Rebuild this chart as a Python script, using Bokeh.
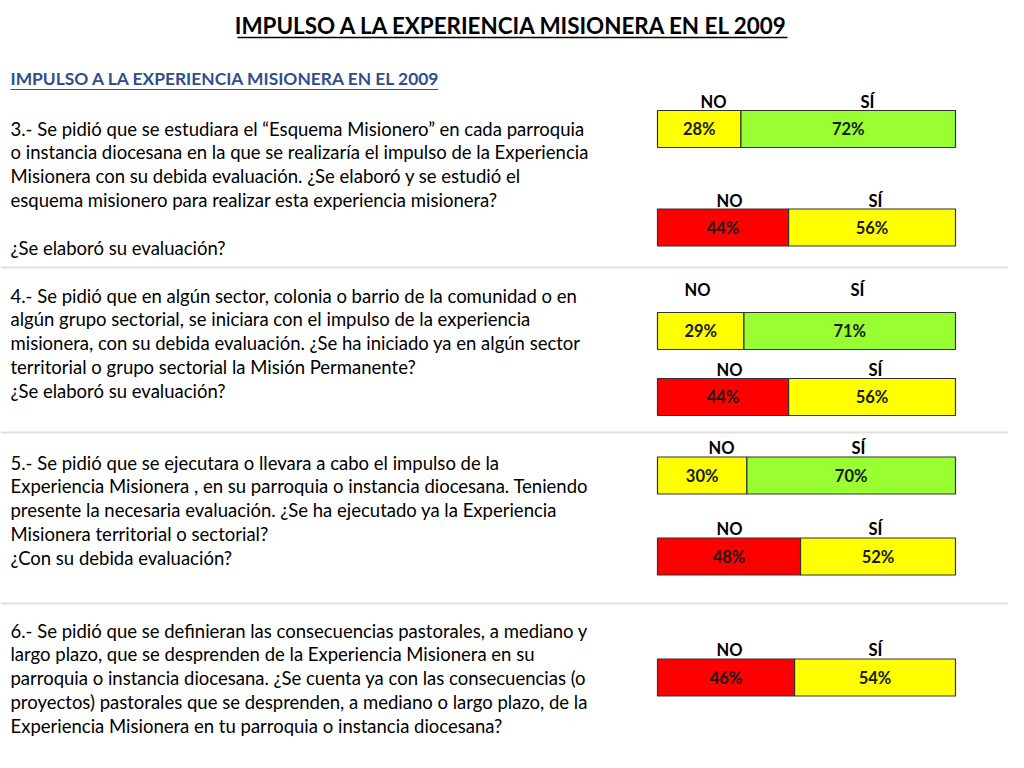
from bokeh.plotting import figure
from bokeh.models import Range1d, ColumnDataSource
from bokeh.core.properties import value
from bokeh.embed import file_html
from bokeh.resources import INLINE

# ---------------- data ----------------
title = "IMPULSO A LA EXPERIENCIA MISIONERA EN EL 2009"
subtitle = "IMPULSO A LA EXPERIENCIA MISIONERA EN EL 2009"

q3 = ["3.- Se pidió que se estudiara el “Esquema Misionero” en cada parroquia",
      "o instancia diocesana en la que se realizaría el impulso de la Experiencia",
      "Misionera con su debida evaluación.  ¿Se elaboró y se estudió el",
      "esquema misionero para realizar esta experiencia misionera?",
      "",
      "¿Se elaboró su evaluación?"]
q4 = ["4.- Se pidió que en algún sector, colonia o barrio de la comunidad o en",
      "algún grupo sectorial, se iniciara  con el impulso de la experiencia",
      "misionera, con su debida evaluación. ¿Se ha iniciado ya en algún sector",
      "territorial o grupo sectorial la Misión Permanente?",
      "¿Se elaboró su evaluación?"]
q5 = ["5.- Se pidió que se ejecutara o llevara a cabo el impulso de la",
      "Experiencia Misionera , en su parroquia o instancia diocesana. Teniendo",
      "presente la necesaria evaluación.  ¿Se ha ejecutado ya la Experiencia",
      "Misionera  territorial o sectorial?",
      "¿Con su debida evaluación?"]
q6 = ["6.- Se pidió que se definieran las consecuencias pastorales, a mediano y",
      "largo plazo, que se desprenden de la Experiencia Misionera en su",
      "parroquia o instancia diocesana. ¿Se cuenta ya con las consecuencias (o",
      "proyectos) pastorales que se desprenden, a mediano o largo plazo, de la",
      "Experiencia Misionera  en tu parroquia o instancia diocesana?"]
questions = [q3, q4, q5, q6]

no_label = "NO"
si_label = "SÍ"
no_pct = [28, 44, 29, 44, 30, 48, 46]
si_pct = [72, 56, 71, 56, 70, 52, 54]
no_colors = ["#FFFF00", "#FF0000", "#FFFF00", "#FF0000", "#FFFF00", "#FF0000", "#FF0000"]
si_colors = ["#99FF33", "#FFFF00", "#99FF33", "#FFFF00", "#99FF33", "#FFFF00", "#FFFF00"]

# ---------------- layout (pixel positions) ----------------
W, H = 1008, 752
q_start_y = [128, 295, 462, 630]
line_h = 23.8
row_y = [128.5, 227, 330.5, 396.5, 475, 556, 677]
bar_h = 37
no_lab_x = [713, 729, 697, 729, 721, 729, 729]
si_lab_x = [867, 875, 857, 875, 858, 875, 875]
lab_dy = [-27, -27, -41, -27, -28, -28, -28]
sep_y = [267, 432, 603]

FONT = value("Lato")

p = figure(width=W, height=H, output_backend="svg", toolbar_location=None,
           x_range=Range1d(0, W), y_range=Range1d(H, 0),
           min_border=0, outline_line_color=None,
           x_axis_location=None, y_axis_location=None)
p.xgrid.visible = False
p.ygrid.visible = False
p.background_fill_color = "white"
p.border_fill_color = "white"

# percent range: 0 -> x=657, 100 -> x=955
bx0, bx1 = 657, 955
sc = (bx1 - bx0) / 100.0
p.extra_x_ranges = {"pct": Range1d(-bx0 / sc, 100 + (W - bx1) / sc)}

# separators
p.segment(x0=[0] * 3, x1=[1024] * 3, y0=sep_y, y1=sep_y, line_color="#e2e2da", line_width=2)

# title
p.text(x=[512], y=[25], text=[title], text_font=FONT, text_font_style="bold",
       text_font_size="22.4px", text_align="center", text_baseline="middle", text_color="black")
p.segment(x0=[237], x1=[787], y0=[37], y1=[37], line_color="black", line_width=1.5)

# subtitle
p.text(x=[10], y=[78], text=[subtitle], text_font=FONT, text_font_style="bold",
       text_font_size="17.4px", text_align="left", text_baseline="middle", text_color="#2F4F8A")
p.segment(x0=[10], x1=[438], y0=[89], y1=[89], line_color="#2F4F8A", line_width=1.2)

# question text
xs, ys, ts = [], [], []
for lines, y0 in zip(questions, q_start_y):
    for i, t in enumerate(lines):
        if t:
            xs.append(10)
            ys.append(y0 + i * line_h)
            ts.append(t)
p.text(x="x", y="y", text="t", source=ColumnDataSource(dict(x=xs, y=ys, t=ts)),
       text_font=FONT, text_font_size="18.5px", text_align="left", text_baseline="middle",
       text_color="black")

# bars
src = ColumnDataSource(dict(
    y=row_y, no=no_pct, si=si_pct, zero=[0] * len(no_pct),
    tot=[a + b for a, b in zip(no_pct, si_pct)],
    noc=no_colors, sic=si_colors,
    no_mid=[a / 2 for a in no_pct],
    si_mid=[a + b / 2 for a, b in zip(no_pct, si_pct)],
    no_txt=[f"{a}%" for a in no_pct], si_txt=[f"{b}%" for b in si_pct],
))
p.hbar(y="y", left="zero", right="no", height=bar_h, source=src, x_range_name="pct",
       fill_color="noc", line_color="#333333", line_width=1.2)
p.hbar(y="y", left="no", right="tot", height=bar_h, source=src, x_range_name="pct",
       fill_color="sic", line_color="#333333", line_width=1.2)
p.text(x="no_mid", y="y", text="no_txt", source=src, x_range_name="pct",
       text_font=FONT, text_font_style="bold", text_font_size="16.5px",
       text_align="center", text_baseline="middle", text_color="#1a1a1a")
p.text(x="si_mid", y="y", text="si_txt", source=src, x_range_name="pct",
       text_font=FONT, text_font_style="bold", text_font_size="16.5px",
       text_align="center", text_baseline="middle", text_color="#1a1a1a")

# NO / SÍ labels
lab_y = [y + d for y, d in zip(row_y, lab_dy)]
p.text(x=no_lab_x, y=lab_y, text=[no_label] * len(row_y), text_font=FONT,
       text_font_style="bold", text_font_size="16.5px", text_align="center",
       text_baseline="middle", text_color="black")
p.text(x=si_lab_x, y=lab_y, text=[si_label] * len(row_y), text_font=FONT,
       text_font_style="bold", text_font_size="16.5px", text_align="center",
       text_baseline="middle", text_color="black")

open("out.html", "w").write(file_html(p, INLINE))
